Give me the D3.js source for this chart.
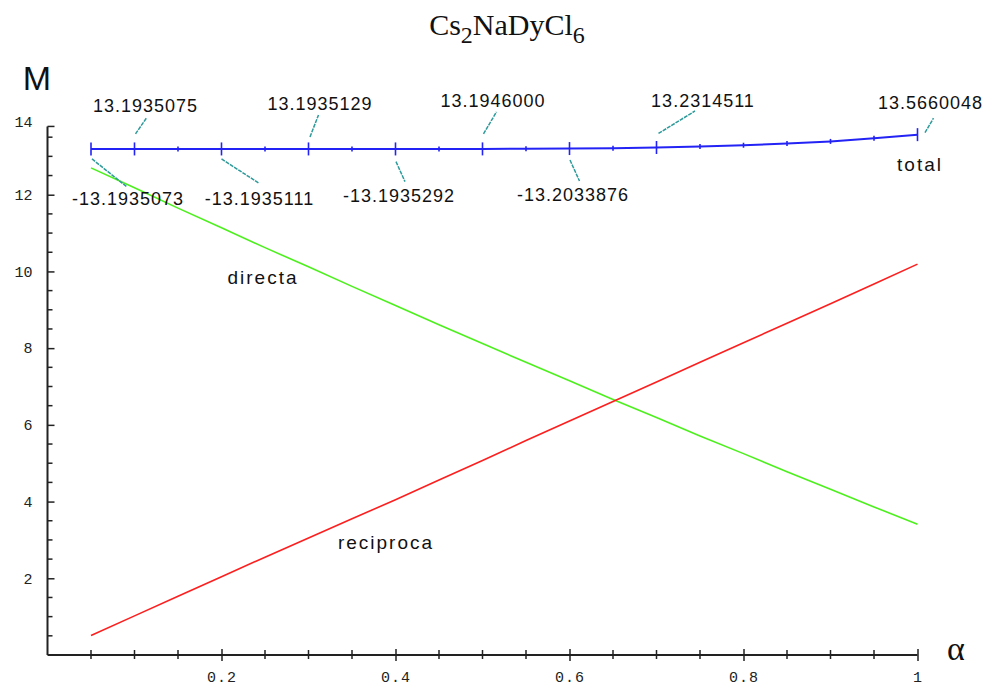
<!DOCTYPE html>
<html>
<head>
<meta charset="utf-8">
<script src="https://cdn.jsdelivr.net/npm/d3@7"></script>
<style>
body { margin: 0; background: #fff; }
text { font-family: "Liberation Sans", Arial, sans-serif; fill: #111; }
.tick text { font-family: "Liberation Mono", "DejaVu Sans Mono", monospace; font-size: 15px; fill: #222; }
</style>
</head>
<body>
<div id="chart"></div>
<script>
// alpha values (x)
var alpha = [0.05, 0.1, 0.15, 0.2, 0.25, 0.3, 0.35, 0.4, 0.45, 0.5,
             0.55, 0.6, 0.65, 0.7, 0.75, 0.8, 0.85, 0.9, 0.95, 1.0];
var directa = [12.70, 12.18, 11.65, 11.14, 10.62, 10.12, 9.61, 9.11, 8.61, 8.12,
               7.63, 7.15, 6.66, 6.19, 5.71, 5.25, 4.78, 4.32, 3.86, 3.41];
var reciproca = [0.51, 1.02, 1.53, 2.04, 2.55, 3.05, 3.55, 4.05, 4.56, 5.07,
                 5.59, 6.10, 6.61, 7.12, 7.63, 8.14, 8.65, 9.16, 9.67, 10.19];
var total = [13.1935073, 13.1935075, 13.19351, 13.1935111, 13.193512, 13.1935129, 13.19352, 13.1935292, 13.1937, 13.1946,
             13.1975, 13.2033876, 13.214, 13.2314511, 13.257, 13.29, 13.335, 13.39, 13.47, 13.5660048];
var calloutAlpha = [0.05, 0.1, 0.2, 0.3, 0.4, 0.5, 0.6, 0.7, 1.0];
var calloutText = ["-13.1935073", "13.1935075", "-13.1935111", "13.1935129", "-13.1935292",
                   "13.1946000", "-13.2033876", "13.2314511", "13.5660048"];
var xTicks = [0.2, 0.4, 0.6, 0.8, 1];
var xMinor = [0.05, 0.1, 0.15, 0.25, 0.3, 0.35, 0.45, 0.5, 0.55, 0.65, 0.7, 0.75, 0.85, 0.9, 0.95];
var yTicks = [2, 4, 6, 8, 10, 12];
var yTopLabel = "14";

// layout of the callouts: text offset and leader line, relative to the point
var calloutLayout = [
    {tx: 37, ty: 56.5, x1: 1, y1: 10, x2: 36, y2: 38},
    {tx: 11, ty: -37, x1: 1, y1: -15, x2: 12, y2: -31},
    {tx: 38, ty: 56, x1: 0, y1: 10, x2: 37, y2: 34},
    {tx: 11.5, ty: -39, x1: 1.5, y1: -12, x2: 10, y2: -34},
    {tx: 3.5, ty: 53, x1: 0.5, y1: 12.7, x2: 9.5, y2: 32.7},
    {tx: 10.5, ty: -42, x1: 1, y1: -15, x2: 14, y2: -37},
    {tx: 3.5, ty: 52.5, x1: 0.5, y1: 11.5, x2: 10, y2: 32.5},
    {tx: 46.5, ty: -40.5, x1: 2, y1: -14, x2: 38.5, y2: -36.5},
    {tx: 13, ty: -25.5, x1: 7.5, y1: -2, x2: 16, y2: -16.5}
];

var width = 990;
var height = 688;

var svg = d3.select('#chart')
    .append('svg')
    .attr('width', width)
    .attr('height', height);

svg.append('rect').attr('width', width).attr('height', height).attr('fill', '#fff');

var x = d3.scaleLinear().domain([0, 1]).range([47.5, 917.5]);
var y = d3.scaleLinear().domain([0, 14]).range([655, 118]);
var yTop = 13.78;

// x axis
var xAxis = svg.append('g')
    .attr('transform', 'translate(0,655)')
    .call(d3.axisBottom(x).tickValues(xTicks).tickSize(6).tickPadding(10)
          .tickFormat(function(d) { return d === 1 ? '1' : d3.format('.1f')(d); }));
xAxis.select('.domain').attr('d', 'M' + x(0) + ',0H' + x(1)).attr('stroke', '#222').attr('stroke-width', 2);
xAxis.selectAll('.tick line').attr('y1', -6).attr('y2', 6).attr('stroke', '#222').attr('stroke-width', 1.5);
xAxis.selectAll('.tick text').attr('letter-spacing', 1);
xAxis.selectAll('.minor')
    .data(xMinor)
    .enter().append('line')
    .attr('class', 'minor')
    .attr('x1', function(d) { return x(d); })
    .attr('x2', function(d) { return x(d); })
    .attr('y1', -5).attr('y2', 4)
    .attr('stroke', '#222').attr('stroke-width', 1.5);

// y axis
var yAxis = svg.append('g')
    .attr('transform', 'translate(' + x(0) + ',0)')
    .call(d3.axisLeft(y).tickValues(yTicks).tickSize(-7).tickPadding(15));
yAxis.select('.domain').attr('d', 'M0,' + y(0) + 'V' + y(yTop)).attr('stroke', '#222').attr('stroke-width', 2);
yAxis.selectAll('.tick line').attr('stroke', '#222').attr('stroke-width', 1.5);
var yMinor = [];
for (var v = 0.5; v < yTop; v += 0.5) {
    if (v % 2 !== 0) yMinor.push(v);
}
yAxis.selectAll('.minor')
    .data(yMinor)
    .enter().append('line')
    .attr('class', 'minor')
    .attr('x1', 0).attr('x2', 5)
    .attr('y1', function(d) { return y(d); })
    .attr('y2', function(d) { return y(d); })
    .attr('stroke', '#222').attr('stroke-width', 1.5);
// top tick at the axis end
yAxis.append('line')
    .attr('x1', 0).attr('x2', 7)
    .attr('y1', y(yTop)).attr('y2', y(yTop))
    .attr('stroke', '#222').attr('stroke-width', 1.5);
yAxis.append('text')
    .attr('x', -15).attr('y', y(yTop) - 4)
    .attr('dy', '0.32em')
    .attr('text-anchor', 'end')
    .style('font-family', '"Liberation Mono", monospace')
    .style('font-size', '15px')
    .style('fill', '#222')
    .text(yTopLabel);

// lines
var line = d3.line()
    .x(function(d) { return x(d[0]); })
    .y(function(d) { return y(d[1]); });

function pairs(vals) {
    return alpha.map(function(a, i) { return [a, vals[i]]; });
}

svg.append('path')
    .datum(pairs(directa))
    .attr('d', line)
    .attr('fill', 'none')
    .attr('stroke', '#4cf01c')
    .attr('stroke-width', 1.6);

svg.append('path')
    .datum(pairs(reciproca))
    .attr('d', line)
    .attr('fill', 'none')
    .attr('stroke', '#ff1e1e')
    .attr('stroke-width', 1.6);

svg.append('path')
    .datum(pairs(total))
    .attr('d', line)
    .attr('fill', 'none')
    .attr('stroke', '#2323f5')
    .attr('stroke-width', 2);

// point marks on the total line
svg.selectAll('.mark')
    .data(pairs(total))
    .enter().append('line')
    .attr('class', 'mark')
    .attr('x1', function(d) { return x(d[0]); })
    .attr('x2', function(d) { return x(d[0]); })
    .attr('y1', function(d) {
        return y(d[1]) - (calloutAlpha.indexOf(d[0]) >= 0 ? 6.5 : 2.5);
    })
    .attr('y2', function(d) {
        return y(d[1]) + (calloutAlpha.indexOf(d[0]) >= 0 ? 6.5 : 2.5);
    })
    .attr('stroke', '#2323f5')
    .attr('stroke-width', 1.6);

// callouts
calloutAlpha.forEach(function(a, i) {
    var px = x(a);
    var py = y(total[alpha.indexOf(a)]);
    var l = calloutLayout[i];
    svg.append('line')
        .attr('x1', px + l.x1).attr('y1', py + l.y1)
        .attr('x2', px + l.x2).attr('y2', py + l.y2)
        .attr('stroke', '#2e9a9a')
        .attr('stroke-width', 1.5)
        .attr('stroke-dasharray', '4,1');
    svg.append('text')
        .attr('x', px + l.tx)
        .attr('y', py + l.ty)
        .attr('text-anchor', 'middle')
        .attr('letter-spacing', 1)
        .style('font-size', '18px')
        .text(calloutText[i]);
});

// curve labels
function word(txt, cx, by) {
    svg.append('text')
        .attr('x', cx).attr('y', by)
        .attr('text-anchor', 'middle')
        .attr('letter-spacing', 2)
        .style('font-size', '19px')
        .text(txt);
}
word('directa', 263, 284);
word('reciproca', 386, 549);
word('total', 920, 171);

// axis names
svg.append('text')
    .attr('x', 37).attr('y', 90)
    .attr('text-anchor', 'middle')
    .style('font-size', '34px')
    .text('M');
svg.append('text')
    .attr('x', 956).attr('y', 660)
    .attr('text-anchor', 'middle')
    .style('font-family', '"Liberation Serif", "Times New Roman", serif')
    .style('font-size', '34px')
    .text('\u03b1');

// title
var title = svg.append('text')
    .attr('x', 507).attr('y', 35)
    .attr('text-anchor', 'middle')
    .style('font-family', '"Liberation Serif", "Times New Roman", serif')
    .style('font-size', '30px');
title.append('tspan').text('Cs');
title.append('tspan').attr('dy', 8).style('font-size', '24px').text('2');
title.append('tspan').attr('dy', -8).text('NaDyCl');
title.append('tspan').attr('dy', 8).style('font-size', '24px').text('6');
</script>
</body>
</html>
